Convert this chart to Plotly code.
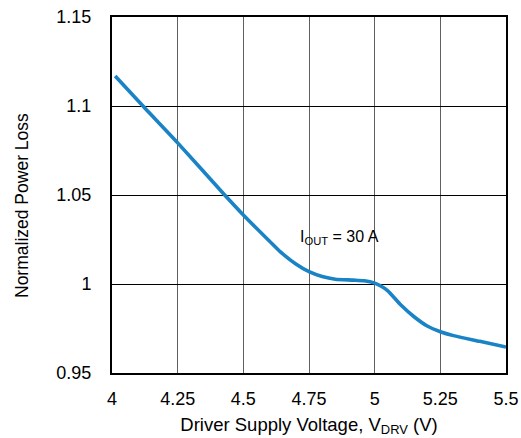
import plotly.graph_objects as go

voltage = [4.012, 4.124, 4.25, 4.429, 4.5, 4.6, 4.64, 4.7, 4.75, 4.8, 4.85, 4.92, 4.96, 5.0, 5.025, 5.05, 5.1, 5.15, 5.2, 5.25, 5.3, 5.4, 5.5]
power_loss = [1.1169, 1.0990, 1.0793, 1.0500, 1.0388, 1.0240, 1.0182, 1.0112, 1.0069, 1.0042, 1.0027, 1.0022, 1.0018, 1.0005, 0.9987, 0.9962, 0.9882, 0.9816, 0.9764, 0.9732, 0.9710, 0.9678, 0.9646]
x_ticks = [4, 4.25, 4.5, 4.75, 5, 5.25, 5.5]
x_tick_labels = ["4", "4.25", "4.5", "4.75", "5", "5.25", "5.5"]
y_ticks = [0.95, 1.0, 1.05, 1.1, 1.15]
y_tick_labels = ["0.95", "1", "1.05", "1.1", "1.15"]

FONT = "Liberation Sans, Arial, sans-serif"

fig = go.Figure()
fig.add_trace(go.Scatter(x=voltage, y=power_loss, mode="lines",
                         line=dict(color="#1a83c6", width=3.6, shape="spline", smoothing=0.6),
                         showlegend=False, cliponaxis=False))

fig.add_annotation(x=4.71, y=1.026, text="I<sub>OUT</sub> = 30 A", showarrow=False,
                   xanchor="left", yanchor="middle",
                   font=dict(family=FONT, size=16, color="black"))

# y-axis title placed as annotation (paper coords)
fig.add_annotation(xref="paper", yref="paper", x=(22 - 112) / 394, y=(373 - 206) / 356,
                   text="Normalized Power Loss", textangle=-90, showarrow=False,
                   xanchor="center", yanchor="middle",
                   font=dict(family=FONT, size=17.5, color="black"))

fig.update_layout(
    width=521, height=438,
    margin=dict(l=112, r=15, t=17, b=65, autoexpand=False),
    paper_bgcolor="white", plot_bgcolor="white",
    font=dict(family=FONT, size=18, color="black"),
    xaxis=dict(range=[4, 5.5], tickvals=x_ticks, ticktext=x_tick_labels,
               showgrid=True, gridcolor="#606060", gridwidth=1,
               showline=True, linecolor="black", linewidth=2, mirror=True,
               ticks="", ticklabelstandoff=8, zeroline=False, automargin=False,
               title=dict(text="Driver Supply Voltage, V<sub>DRV</sub> (V)",
                          font=dict(size=18.5), standoff=10)),
    yaxis=dict(range=[0.95, 1.15], tickvals=y_ticks, ticktext=y_tick_labels,
               showgrid=True, gridcolor="black", gridwidth=1,
               showline=True, linecolor="black", linewidth=2, mirror=True,
               ticks="", ticklabelstandoff=15, zeroline=False, automargin=False),
)
fig.write_html("out.html")
